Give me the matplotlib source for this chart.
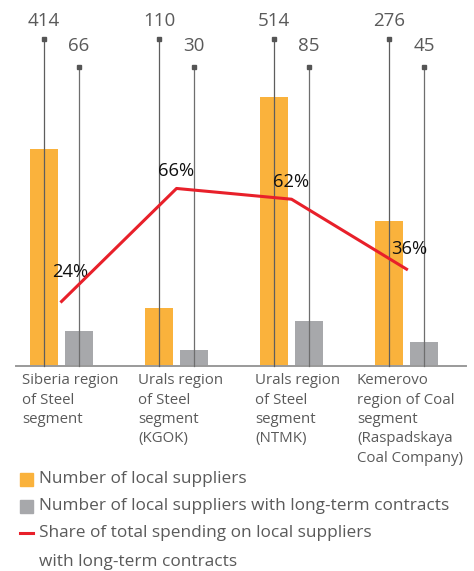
import matplotlib
matplotlib.use("Agg")
import matplotlib.pyplot as plt
from matplotlib.patches import Rectangle
from matplotlib.lines import Line2D

# ---- data ----
categories = [
    "Siberia region\nof Steel\nsegment",
    "Urals region\nof Steel\nsegment\n(KGOK)",
    "Urals region\nof Steel\nsegment\n(NTMK)",
    "Kemerovo\nregion of Coal\nsegment\n(Raspadskaya\nCoal Company)",
]
local_suppliers = [414, 110, 514, 276]
long_term_suppliers = [66, 30, 85, 45]
share_spending = [24, 66, 62, 36]
legend_labels = [
    "Number of local suppliers",
    "Number of local suppliers with long-term contracts",
    "Share of total spending on local suppliers\nwith long-term contracts",
]

# ---- style ----
W, H = 474, 571
ORANGE = "#FAB23C"
GRAY = "#A7A8AB"
RED = "#E8202A"
TXT = "#5A5A5A"
FONT = "Open Sans"
plt.rcParams["font.family"] = [FONT, "DejaVu Sans"]

fig = plt.figure(figsize=(W / 100, H / 100), dpi=100)
ax_left, ax_right, ax_base, ax_top = 16, 466, 366, 0
ax = fig.add_axes([ax_left / W, (H - ax_base) / H, (ax_right - ax_left) / W, (ax_base - ax_top) / H])

px_per_unit = 0.524
px_per_pct = 2.69
ax.set_ylim(0, (ax_base - ax_top) / px_per_unit)
ax.set_xlim(-0.396, 3.517)

off = 0.152
bw = 0.243
n = len(local_suppliers)
xs = list(range(n))
ax.bar([x - off for x in xs], local_suppliers, width=bw, color=ORANGE, zorder=2)
ax.bar([x + off for x in xs], long_term_suppliers, width=bw, color=GRAY, zorder=2)

# value stems and labels
span = ax_base - ax_top
stem_top_o = (ax_base - 39) / span
stem_top_g = (ax_base - 67) / span
lab_o = (ax_base - 21) / span
lab_g = (ax_base - 46) / span
trans = ax.get_xaxis_transform()
for i in xs:
    for dx, top, lab, v, c in [(-off, stem_top_o, lab_o, local_suppliers[i], "#5E5E5E"),
                               (off, stem_top_g, lab_g, long_term_suppliers[i], "#6E6E6E")]:
        ax.plot([i + dx, i + dx], [0, top], transform=trans, color=c, lw=0.9, zorder=3, clip_on=False)
        ax.plot([i + dx], [top], transform=trans, marker="s", ms=3.5, color="#555555", zorder=4, clip_on=False)
        ax.text(i + dx, lab, str(v), transform=trans, ha="center", va="center",
                fontsize=13.5, color=TXT, zorder=5)

# share line on secondary axis
ax2 = ax.twinx()
ax2.set_ylim(0, span / px_per_pct)
ax2.plot(xs, share_spending, color=RED, lw=2.2, zorder=5)
pct_offsets = [(6, 21.5), (0, 12.5), (0, 12.5), (2, 14.5)]
for i, (p, o) in enumerate(zip(share_spending, pct_offsets)):
    ax2.annotate(f"{p}%", (i, p), xytext=o, textcoords="offset points",
                 ha="center", va="center", fontsize=13.2, color="#111111")

for a in (ax, ax2):
    for s in ("top", "left", "right"):
        a.spines[s].set_visible(False)
    a.set_yticks([])
    a.set_xticks([])
ax2.spines["bottom"].set_visible(False)
ax.spines["bottom"].set_color("#9A9A9A")
ax.spines["bottom"].set_linewidth(1.4)

# category labels (one text per line)
cat_x = [22, 138, 255, 357]
for cx, lab in zip(cat_x, categories):
    for k, line in enumerate(lab.split("\n")):
        fig.text(cx / W, 1 - (381 + 19.3 * k) / H, line, ha="left", va="center",
                 fontsize=10.8, color=TXT)

# legend
leg_rows = [479, 506, 533]
for k, (ly, lab) in enumerate(zip(leg_rows, legend_labels)):
    if k < 2:
        fig.patches.append(Rectangle((20 / W, 1 - (ly + 6.5) / H), 13 / W, 13 / H,
                                     transform=fig.transFigure, color=[ORANGE, GRAY][k]))
    else:
        fig.lines.append(Line2D([20 / W, 33 / W], [1 - ly / H] * 2, transform=fig.transFigure,
                                color=RED, lw=2.2))
    for j, line in enumerate(lab.split("\n")):
        fig.text(39 / W, 1 - (ly + 29 * j) / H, line, ha="left", va="center",
                 fontsize=12.4, color=TXT)

fig.savefig("out.png", dpi=100)
